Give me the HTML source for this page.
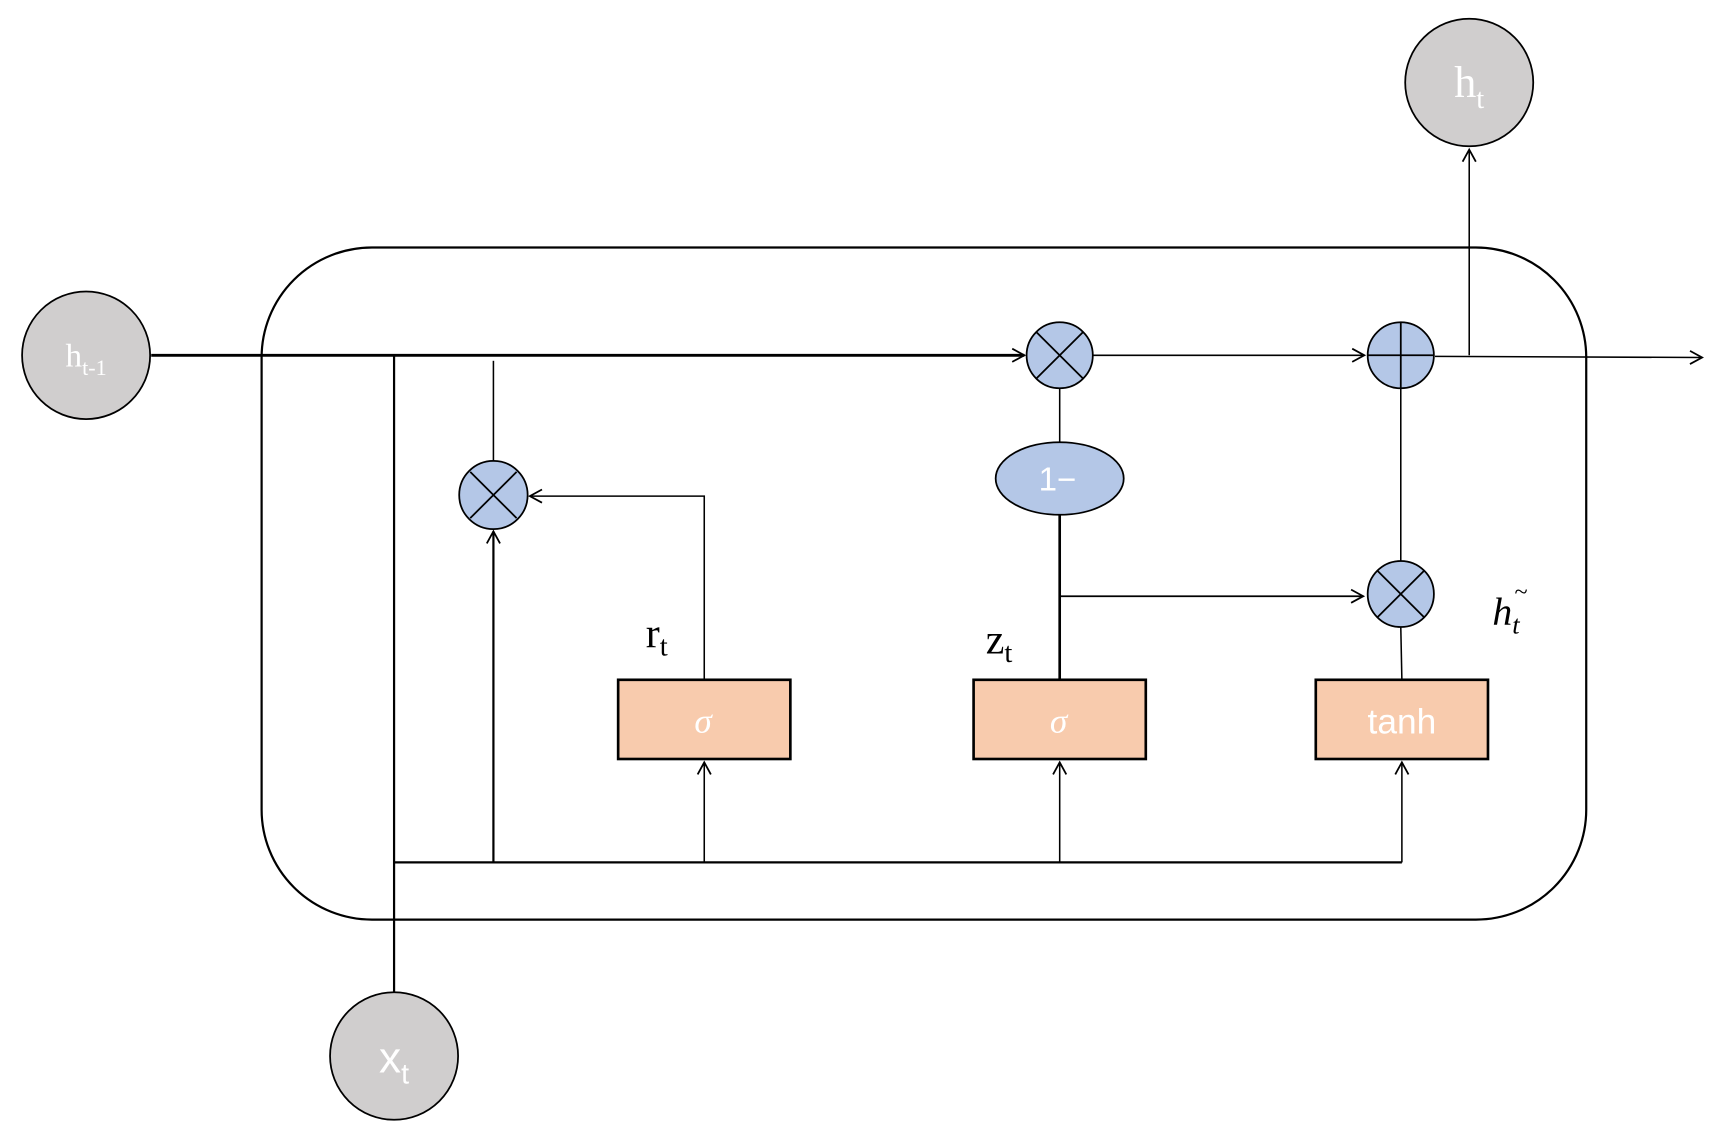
<!DOCTYPE html>
<html><head><style>html,body{margin:0;padding:0;background:#fff}svg{display:block}</style></head><body>
<svg width="1722" height="1144" viewBox="0 0 1560 1040" preserveAspectRatio="none" xmlns="http://www.w3.org/2000/svg">
<defs><marker id="a" markerWidth="14" markerHeight="14" refX="12" refY="7" orient="auto" markerUnits="userSpaceOnUse"><path d="M1,1 L12,7 L1,13" fill="none" stroke="#000" stroke-width="1.6"/></marker></defs>
<g stroke="#000" fill="none">
<rect x="237" y="225" width="1200" height="611" rx="100" stroke-width="2"/>
<line x1="137" y1="323" x2="928" y2="323" stroke-width="2.6" marker-end="url(#a)"/>
<line x1="990" y1="323" x2="1236" y2="323" stroke-width="1.4" marker-end="url(#a)"/>
<line x1="1300" y1="324" x2="1542" y2="325" stroke-width="1.4" marker-end="url(#a)"/>
<line x1="1331" y1="323" x2="1331" y2="136" stroke-width="1.4" marker-end="url(#a)"/>
<line x1="357" y1="902" x2="357" y2="323" stroke-width="2"/>
<line x1="447" y1="419" x2="447" y2="328" stroke-width="1.4"/>
<polyline points="638,618 638,451 480,451" stroke-width="1.4" marker-end="url(#a)"/>
<line x1="960" y1="353" x2="960" y2="402" stroke-width="1.4"/>
<line x1="960" y1="468" x2="960" y2="618" stroke-width="2.4"/>
<line x1="960" y1="542" x2="1235" y2="542" stroke-width="1.6" marker-end="url(#a)"/>
<line x1="1269" y1="353" x2="1269" y2="510" stroke-width="1.4"/>
<line x1="1269" y1="570" x2="1270" y2="618" stroke-width="1.4"/>
<line x1="357" y1="784" x2="1270" y2="784" stroke-width="2"/>
<line x1="447" y1="784" x2="447" y2="483" stroke-width="2" marker-end="url(#a)"/>
<line x1="638" y1="784" x2="638" y2="693" stroke-width="1.4" marker-end="url(#a)"/>
<line x1="960" y1="784" x2="960" y2="693" stroke-width="1.4" marker-end="url(#a)"/>
<line x1="1270" y1="784" x2="1270" y2="693" stroke-width="1.4" marker-end="url(#a)"/>
</g>
<g stroke="#000" stroke-width="1.6" fill="#d0cece">
<circle cx="78" cy="323" r="58"/><circle cx="1331" cy="75" r="58"/><circle cx="357" cy="960" r="58"/>
</g>
<g stroke="#000" stroke-width="1.6" fill="#b4c7e7">
<circle cx="960" cy="323" r="30"/><circle cx="1269" cy="323" r="30"/><circle cx="447" cy="450" r="31"/><circle cx="1269" cy="540" r="30"/>
<ellipse cx="960" cy="435" rx="58" ry="33"/>
</g>
<g stroke="#000" stroke-width="1.6">
<line x1="939" y1="302" x2="981" y2="344"/><line x1="981" y1="302" x2="939" y2="344"/>
<line x1="426" y1="429" x2="468" y2="471"/><line x1="468" y1="429" x2="426" y2="471"/>
<line x1="1248" y1="519" x2="1290" y2="561"/><line x1="1290" y1="519" x2="1248" y2="561"/>
<line x1="1239" y1="323" x2="1299" y2="323"/><line x1="1269" y1="293" x2="1269" y2="353"/>
</g>
<g stroke="#000" stroke-width="2.4" fill="#f8cbad">
<rect x="560" y="618" width="156" height="72"/><rect x="882" y="618" width="156" height="72"/><rect x="1192" y="618" width="156" height="72"/>
</g>
<g fill="#fff" text-anchor="middle" font-family="Liberation Serif, serif">
<text x="78" y="333" font-size="30">h<tspan font-size="20" dy="8">t-1</tspan></text>
<text x="1331" y="88" font-size="40">h<tspan font-size="26" dy="10">t</tspan></text>
<text x="637" y="666" font-size="32" font-style="italic">σ</text>
<text x="959" y="666" font-size="32" font-style="italic">σ</text>
</g>
<g fill="#fff" text-anchor="middle" font-family="Liberation Sans, sans-serif">
<text x="357" y="975" font-size="40">x<tspan font-size="26" dy="10">t</tspan></text>
<text x="958" y="446" font-size="30">1−</text>
<text x="1270" y="667" font-size="32">tanh</text>
</g>
<g fill="#000" font-family="Liberation Serif, serif">
<text x="585" y="588" font-size="38">r<tspan font-size="26" dy="8">t</tspan></text>
<text x="893" y="594" font-size="38">z<tspan font-size="26" dy="8">t</tspan></text>
<text x="1352" y="568" font-size="36" font-style="italic">h<tspan font-size="24" dy="8">t</tspan></text>
<text x="1372" y="545" font-size="22">~</text>
</g>
</svg>
</body></html>
